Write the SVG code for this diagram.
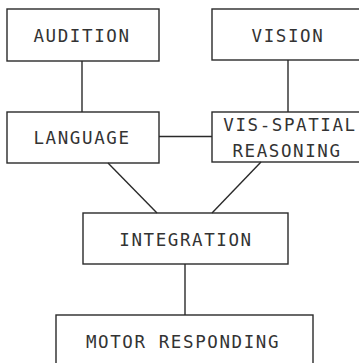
<svg xmlns="http://www.w3.org/2000/svg" width="359" height="363" viewBox="0 0 359 363">
<style>
.box{fill:none;stroke:#2a2a2a;stroke-width:1.4}
.ln{stroke:#2a2a2a;stroke-width:1.4;fill:none}
.t{font-family:"DejaVu Sans Mono",monospace;font-size:17.5px;letter-spacing:1.6px;fill:#333;text-anchor:middle}
</style>
<rect width="359" height="363" fill="#fff"/>
<g id="connectors">
<line class="ln" x1="82" y1="61" x2="82" y2="112"/>
<line class="ln" x1="288" y1="60" x2="288" y2="112"/>
<line class="ln" x1="159" y1="136.5" x2="212" y2="136.5"/>
<line class="ln" x1="108" y1="163" x2="157" y2="213"/>
<line class="ln" x1="261" y1="162" x2="212" y2="213"/>
<line class="ln" x1="185" y1="264" x2="185" y2="315"/>
</g>
<g id="audition"><rect class="box" x="7" y="9" width="152" height="52"/><text class="t" x="82" y="42">AUDITION</text></g>
<g id="vision"><rect class="box" x="212" y="9" width="160" height="51"/><text class="t" x="288" y="42">VISION</text></g>
<g id="language"><rect class="box" x="7" y="112" width="152" height="51"/><text class="t" x="82" y="144">LANGUAGE</text></g>
<g id="vis-spatial"><rect class="box" x="212" y="112" width="160" height="50"/><text class="t" x="290" y="131">VIS-SPATIAL</text><text class="t" x="287" y="157">REASONING</text></g>
<g id="integration"><rect class="box" x="83" y="213" width="205" height="51"/><text class="t" x="186" y="246">INTEGRATION</text></g>
<g id="motor"><rect class="box" x="56" y="315" width="257" height="60"/><text class="t" x="183" y="348">MOTOR RESPONDING</text></g>
</svg>
